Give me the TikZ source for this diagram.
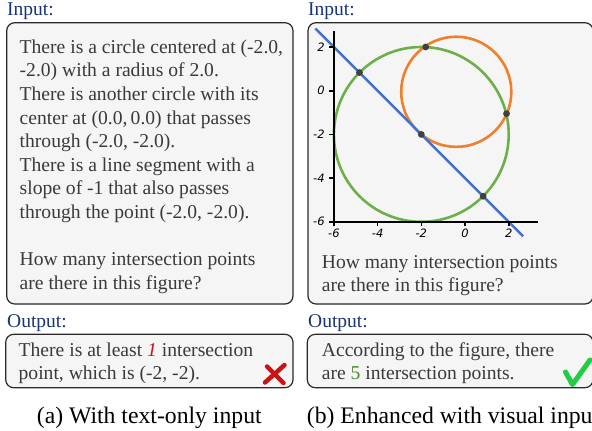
\documentclass[tikz,border=0pt]{standalone}
\usepackage{fontspec}
\setmainfont{Liberation Serif}
\newfontfamily\tickfont{DejaVu Sans}
\definecolor{labelblue}{HTML}{1B3473}
\definecolor{textgray}{HTML}{3A3A3A}
\definecolor{boxfill}{HTML}{F5F5F5}
\definecolor{boxline}{HTML}{2A2A2A}
\definecolor{circgreen}{HTML}{6DB04A}
\definecolor{circorange}{HTML}{F07F2C}
\definecolor{lineblue}{HTML}{4472C4}
\definecolor{dotgray}{HTML}{404040}
\definecolor{wrongred}{HTML}{C81414}
\definecolor{okgreen}{HTML}{4A8A2A}
\definecolor{checkgreen}{HTML}{22CC44}
\begin{document}
\begin{tikzpicture}[x=1pt,y=-1pt,
  panel/.style={draw=boxline, fill=boxfill, line width=1.2pt, rounded corners=8pt},
  lbl/.style={anchor=base west, inner sep=0pt, text=labelblue, font=\fontsize{19.5}{23.6}\selectfont},
  txt/.style={anchor=base west, inner sep=0pt, text=textgray, font=\fontsize{19.6}{23.6}\selectfont},
  captext/.style={anchor=base west, inner sep=0pt, text=black, font=\fontsize{23.7}{28}\selectfont},
  ticklbl/.style={inner sep=0pt, text=black, font=\tickfont\itshape\fontsize{11.5}{13}\selectfont},
  axisline/.style={line width=2.3pt, black},
  tickline/.style={line width=1.6pt, black},
  curve/.style={line width=2.6pt},
  dotfill/.style={fill=dotgray},
  crossmark/.style={line width=4.5pt, wrongred, line cap=round},
  checkmark/.style={line width=5pt, checkgreen, line cap=round, line join=round}]
\useasboundingbox (0,0) rectangle (592,431);
\clip (0,0) rectangle (592,431);

% labels
\node[lbl] (inA) at (7,16) {Input:};
\node[lbl] (inB) at (308,16) {Input:};
\node[lbl] (outA) at (7,327.3) {Output:};
\node[lbl] (outB) at (308,327.3) {Output:};

% panels
\draw[panel] (6.7,22.7) rectangle (293,304);
\draw[panel] (308,22.7) rectangle (593,304);
\draw[panel] (5.7,334.3) rectangle (293,387.7);
\draw[panel] (307.3,334.3) rectangle (593,387.7);

% left input text
\foreach \i/\t in {0/{There is a circle centered at (-2.0,},
                   1/{-2.0) with a radius of 2.0.},
                   2/{There is another circle with its},
                   3/{center at (0.0,\,0.0) that passes},
                   4/{through (-2.0, -2.0).},
                   5/{There is a line segment with a},
                   6/{slope of -1 that also passes},
                   7/{through the point (-2.0, -2.0).},
                   9/{How many intersection points},
                   10/{are there in this figure?}}
  \node[txt] (ta\i) at (19.5, 53.2+23.6*\i) {\t};

% right input text
\node[txt] (tb1) at (321.7,268) {How many intersection points};
\node[txt] (tb2) at (321.7,291.6) {are there in this figure?};

% output texts
\node[txt] (oa1) at (18.5,356) {There is at least {\itshape\color{wrongred}1} intersection};
\node[txt] (oa2) at (18.5,379.5) {point, which is (-2, -2).};
\node[txt] (ob1) at (321.7,356) {According to the figure, there};
\node[txt] (ob2) at (321.7,379.5) {are {\color{okgreen}5} intersection points.};

% captions
\node[captext] (capA) at (36.7,423.3) {(a) With text-only input};
\node[captext] (capB) at (306.7,423.3) {(b) Enhanced with visual input};

% marks
\draw[crossmark] (267,366.5) -- (283.5,383);
\draw[crossmark] (284.5,365) -- (265,382.5);
\draw[checkmark] (565.5,372) -- (572.5,384.5) -- (590,360);

% plot
\begin{scope}[shift={(465,90.7)}, x=21.85pt, y=21.85pt]
  \draw[curve, circgreen] (-2,-2) circle (4);
  \draw[curve, circorange] (-0.4,-0.05) circle (2.52);
  \draw[curve, lineblue] (-6.85,2.85) -- (2.66,-6.66);
  \foreach \p in {(-4.83,0.83),(-2,-2),(0.83,-4.83),(-1.8,2.0),(1.9,-1.05)}
    \fill[dotfill] \p circle (3.4pt);
  \draw[axisline] (-6,2.72) -- (-6,-6) -- (3.35,-6);
  \foreach \v in {-6,-4,-2,0,2} {
    \draw[tickline] (\v,-6) -- ++(0,-0.2);
    \draw[tickline] (-6,\v) -- ++(-0.22,0);
    \node[ticklbl, anchor=base] (xl\v) at (\v,-6) [yshift=-16pt] {\v};
    \node[ticklbl, anchor=base east] (yl\v) at (-6,\v) [xshift=-9pt, yshift=-4pt] {\v};
  }
\end{scope}
\end{tikzpicture}
\end{document}
